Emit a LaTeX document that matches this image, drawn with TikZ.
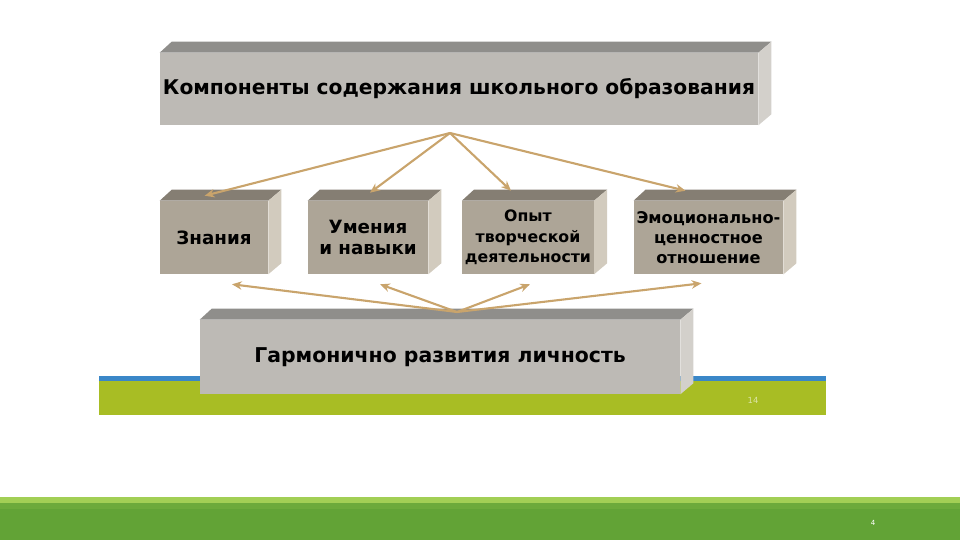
\documentclass[tikz,border=0pt]{standalone}
\usepackage{fontspec}
\setmainfont{DejaVu Sans}
\usetikzlibrary{arrows.meta,positioning,calc}

\definecolor{greyfront}{HTML}{BDBAB5}
\definecolor{greytop}{HTML}{8F8E8B}
\definecolor{greyside}{HTML}{D3D0CB}
\definecolor{taupefront}{HTML}{ADA597}
\definecolor{taupetop}{HTML}{857E73}
\definecolor{taupeside}{HTML}{D2CBBE}
\definecolor{arrowtan}{HTML}{C9A46C}
\definecolor{stripblue}{HTML}{3A87C8}
\definecolor{stripgreen}{HTML}{A8BD24}
\definecolor{bandlight}{HTML}{A2CF55}
\definecolor{banddark}{HTML}{62A336}

\tikzset{
  slab/.style={rectangle,inner sep=2pt,align=center,font=\bfseries},
  headslab/.style={slab,fill=greyfront,minimum width=14.95cm,minimum height=1.8cm,font=\bfseries\fontsize{14.4}{17}\selectfont},
  midslab/.style={slab,fill=taupefront,minimum height=1.825cm},
  link/.style={-{Stealth[length=7pt,width=6pt]},draw=arrowtan,line width=1.5pt}
}

\begin{document}
\begin{tikzpicture}[x=0.025cm,y=-0.025cm]
  \useasboundingbox (0,0) rectangle (960,540);

  % slide strips
  \fill[stripblue] (99,376) rectangle (826,381);
  \fill[stripgreen] (99,381) rectangle (826,415);
  \node[font=\fontsize{6}{7}\selectfont,text=stripgreen!40] (pg) at (753,400) {14};
  \fill[bandlight] (0,497) rectangle (960,503);
  \fill[banddark!85!bandlight] (0,503) rectangle (960,509);
  \fill[banddark] (0,509) rectangle (960,540);
  \node[font=\fontsize{5}{6}\selectfont,text=white] (num) at (873,523) {4};

  % front faces
  \node[headslab] (head) at (459,89) {Компоненты содержания школьного образования};
  \node[midslab,minimum width=2.7cm,font=\bfseries\fontsize{13}{15}\selectfont] (zn) at (214,237.5) {Знания};
  \node[midslab,minimum width=3.0cm,font=\bfseries\fontsize{13}{15}\selectfont] (um) at (368,237.5) {Умения\\и навыки};
  \node[midslab,minimum width=3.25cm,font=\bfseries\fontsize{11.2}{14.5}\selectfont] (op) at (528,237.5) {Опыт\\творческой\\деятельности};
  \node[midslab,minimum width=3.725cm,font=\bfseries\fontsize{11.5}{14.5}\selectfont] (em) at (708.5,237.5) {Эмоционально-\\ценностное\\отношение};
  \node[slab,fill=greyfront,minimum width=12cm,minimum height=1.85cm,font=\bfseries\fontsize{14.5}{17}\selectfont] (lich) at (440,357) {Гармонично развития личность};

  % top and side faces
  \foreach \n/\tc/\sc in {head/greytop/greyside,zn/taupetop/taupeside,um/taupetop/taupeside,op/taupetop/taupeside,em/taupetop/taupeside,lich/greytop/greyside} {
    \fill[\tc] (\n.north west) -- ++(12,-11) -- ($(\n.north east)+(13,-11)$) -- (\n.north east) -- cycle;
    \fill[\sc] (\n.north east) -- ++(13,-11) -- ($(\n.south east)+(13,-11)$) -- (\n.south east) -- cycle;
  }

  % arrows
  \coordinate (up) at (450,133);
  \coordinate (down) at (457,312);
  \draw[link] (up) -- ([shift={(45,-5)}]zn.north west);
  \draw[link] (up) -- ([shift={(2,-8)}]um.north);
  \draw[link] (up) -- ([shift={(-17,-10)}]op.north);
  \draw[link] (up) -- ([shift={(-23,-10)}]em.north);
  \draw[link] (down) -- ([shift={(18,10)}]zn.south);
  \draw[link] (down) -- ([shift={(12,10)}]um.south);
  \draw[link] (down) -- ([shift={(2,10)}]op.south);
  \draw[link] (down) -- ([shift={(-7,9)}]em.south);

\end{tikzpicture}
\end{document}
